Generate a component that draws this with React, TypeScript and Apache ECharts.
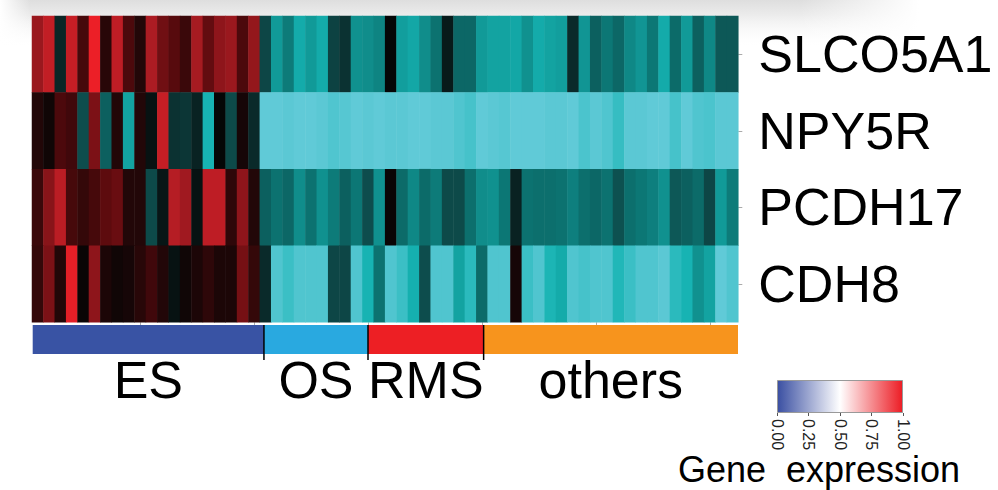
import React, { useEffect, useRef } from "react";
import * as echarts from "echarts";

// Genes, top to bottom
const genes = ["SLCO5A1", "NPY5R", "PCDH17", "CDH8"];

// Scaled expression per sample (62 samples, left to right)
const slco5a1 = [
  0.82, 0.9, 0.49, 0.91, 0.68, 1.0, 0.63, 0.89, 0.69, 0.62, 0.85, 0.75, 0.71, 0.66, 0.84, 0.73, 0.8, 0.82, 0.69, 0.81,
  0.41, 0.2, 0.27, 0.16, 0.2, 0.16, 0.42, 0.46, 0.22, 0.23, 0.25, 0.57, 0.19, 0.17, 0.23, 0.29, 0.52, 0.32, 0.32, 0.2,
  0.18, 0.18, 0.17, 0.22, 0.16, 0.18, 0.19, 0.48, 0.21, 0.34, 0.28, 0.32, 0.24, 0.21, 0.28, 0.16, 0.31, 0.2, 0.34, 0.24, 0.36, 0.36,
];
const npy5r = [
  0.62, 0.59, 0.69, 0.67, 0.39, 0.77, 0.34, 0.62, 0.18, 0.62, 0.54, 0.91, 0.46, 0.45, 0.5, 0.14, 0.57, 0.4, 0.6, 0.48,
  0.0, 0.0, 0.01, 0.0, 0.0, 0.01, 0.03, 0.02, 0.0, 0.01, 0.0, 0.01, 0.01, 0.0, 0.0, 0.01, 0.01, 0.03, 0.05, 0.0,
  0.01, 0.02, 0.0, 0.0, 0.0, 0.01, 0.01, 0.0, 0.04, 0.01, 0.03, 0.08, 0.01, 0.01, 0.0, 0.0, 0.05, 0.0, 0.03, 0.04, 0.01, 0.01,
];
const pcdh17 = [
  0.66, 0.79, 0.88, 0.68, 0.65, 0.68, 0.72, 0.74, 0.62, 0.62, 0.4, 0.53, 0.87, 0.83, 0.54, 0.89, 0.89, 0.64, 0.8, 0.62,
  0.34, 0.29, 0.32, 0.23, 0.29, 0.22, 0.27, 0.34, 0.28, 0.39, 0.22, 0.58, 0.31, 0.24, 0.31, 0.27, 0.4, 0.4, 0.3, 0.23,
  0.22, 0.28, 0.5, 0.29, 0.3, 0.3, 0.29, 0.26, 0.3, 0.32, 0.29, 0.38, 0.3, 0.28, 0.26, 0.22, 0.36, 0.34, 0.31, 0.41, 0.2, 0.27,
];
const cdh8 = [
  0.65, 0.77, 0.62, 0.98, 0.58, 0.8, 0.61, 0.59, 0.6, 0.63, 0.67, 0.62, 0.54, 0.59, 0.61, 0.64, 0.61, 0.61, 0.76, 0.65,
  0.48, 0.03, 0.07, 0.03, 0.03, 0.03, 0.41, 0.41, 0.03, 0.14, 0.29, 0.03, 0.07, 0.15, 0.39, 0.03, 0.03, 0.18, 0.1, 0.31,
  0.03, 0.03, 0.6, 0.07, 0.03, 0.13, 0.16, 0.03, 0.05, 0.03, 0.03, 0.12, 0.07, 0.03, 0.03, 0.01, 0.1, 0.14, 0.22, 0.18, 0.0, 0.03,
];
const expression = [slco5a1, npy5r, pcdh17, cdh8];

// Tumour type annotation
const groups = ["ES", "OS", "RMS", "others"];
const groupSizes = [20, 9, 10, 22];
const groupColors = ["#3953a4", "#29a9e0", "#ed1f24", "#f7941d"];

// Colour bar ticks
const legendTicks = [0, 0.25, 0.5, 0.75, 1];

const FONT = "'Liberation Sans', Arial, Helvetica, sans-serif";

export default function App() {
  const ref = useRef<HTMLDivElement>(null);

  useEffect(() => {
    document.body.style.margin = "0";
    if (!ref.current) return;
    const chart = echarts.init(ref.current, undefined, { renderer: "svg" });

    const nSamples = expression[0].length;
    const samples = Array.from({ length: nSamples }, (_, i) => `S${i + 1}`);
    const cells: number[][] = [];
    expression.forEach((row, r) => row.forEach((v, c) => cells.push([c, r, v])));

    const groupData: any[] = [];
    let acc = 0;
    groupSizes.forEach((n, i) => {
      groupData.push({ value: [acc, acc + n, i], name: groups[i] });
      acc += n;
    });
    const annotationTotal = acc;

    chart.setOption({
      animation: false,
      backgroundColor: "#ffffff",
      graphic: [
        {
          type: "rect",
          left: 0,
          top: 0,
          z: -10,
          silent: true,
          shape: { width: 998, height: 48 },
          style: {
            fill: {
              type: "linear", x: 0, y: 0, x2: 0, y2: 1,
              colorStops: [
                { offset: 0, color: "#dedede" },
                { offset: 0.3, color: "#ebebeb" },
                { offset: 1, color: "rgba(255,255,255,0)" },
              ],
            },
          },
        },
        {
          type: "rect",
          left: 800,
          top: 0,
          z: -9,
          silent: true,
          shape: { width: 198, height: 48 },
          style: {
            fill: {
              type: "linear", x: 0, y: 0, x2: 1, y2: 0,
              colorStops: [
                { offset: 0, color: "rgba(255,255,255,0)" },
                { offset: 0.6, color: "#ffffff" },
                { offset: 1, color: "#ffffff" },
              ],
            },
          },
        },
        {
          type: "rect",
          left: 0,
          top: 0,
          z: -9,
          silent: true,
          shape: { width: 30, height: 48 },
          style: {
            fill: {
              type: "linear", x: 0, y: 0, x2: 1, y2: 0,
              colorStops: [
                { offset: 0, color: "#ffffff" },
                { offset: 1, color: "rgba(255,255,255,0)" },
              ],
            },
          },
        },
        {
          type: "text",
          x: 819,
          y: 469,
          silent: true,
          style: {
            text: "Gene  expression",
            fontSize: 36,
            fontFamily: FONT,
            fill: "#000000",
            align: "center",
            verticalAlign: "middle",
          },
        },
      ],
      grid: [
        { left: 32, top: 16, width: 706.3, height: 306.3 },
        { left: 32.7, top: 325, width: 705.3, height: 35 },
        { left: 777, top: 380, width: 126, height: 33 },
      ],
      xAxis: [
        {
          type: "category",
          gridIndex: 0,
          data: samples,
          axisLine: { show: false },
          axisLabel: { show: false },
          splitLine: { show: false },
          axisTick: {
            show: true,
            alignWithLabel: true,
            interval: (i: number) => (i + 1) % 10 === 0,
            length: 4,
            lineStyle: { color: "#aaaaaa", width: 1 },
          },
        },
        {
          type: "value",
          gridIndex: 1,
          min: 0,
          max: annotationTotal,
          show: false,
        },
        {
          type: "value",
          gridIndex: 2,
          min: 0,
          max: 1,
          interval: 0.25,
          position: "bottom",
          axisLine: { show: false },
          splitLine: { show: false },
          axisTick: { show: true, length: 3, lineStyle: { color: "#555555" } },
          axisLabel: {
            rotate: -90,
            margin: 6,
            fontSize: 16,
            fontFamily: FONT,
            color: "#222222",
            customValues: legendTicks,
            formatter: (v: number) => v.toFixed(2),
          },
        },
      ],
      yAxis: [
        {
          type: "category",
          gridIndex: 0,
          data: genes,
          inverse: true,
          position: "right",
          axisLine: { show: false },
          splitLine: { show: false },
          axisTick: {
            show: true,
            alignWithLabel: true,
            length: 4,
            lineStyle: { color: "#aaaaaa", width: 1 },
          },
          axisLabel: {
            fontSize: 52,
            fontFamily: FONT,
            color: "#000000",
            margin: 20,
          },
        },
        { type: "value", gridIndex: 1, min: 0, max: 1, show: false },
        { type: "category", gridIndex: 2, data: ["expr"], show: false },
      ],
      visualMap: [
        {
          type: "continuous",
          show: false,
          seriesIndex: 0,
          dimension: 2,
          min: 0,
          max: 1,
          inRange: {
            color: [
              "#60cad7",
              "#15b3b2",
              "#0c7472",
              "#0d3f3f",
              "#050505",
              "#5a0a0d",
              "#b01d24",
              "#ec1f27",
            ],
          },
        },
      ],
      series: [
        {
          type: "heatmap",
          xAxisIndex: 0,
          yAxisIndex: 0,
          data: cells,
          progressive: 0,
          itemStyle: { borderWidth: 0 },
          emphasis: { disabled: true },
        },
        {
          type: "custom",
          xAxisIndex: 1,
          yAxisIndex: 1,
          data: groupData,
          renderItem: (params: any, api: any) => {
            const s = api.value(0);
            const e = api.value(1);
            const idx = api.value(2);
            const p0 = api.coord([s, 1]);
            const p1 = api.coord([e, 0]);
            const top = p0[1];
            const bottom = p1[1];
            const children: any[] = [
              {
                type: "rect",
                shape: { x: p0[0], y: top, width: p1[0] - p0[0], height: 29 },
                style: { fill: groupColors[idx] },
              },
              {
                type: "text",
                x: (p0[0] + p1[0]) / 2,
                y: top + 55,
                style: {
                  text: groups[idx],
                  fontSize: 52,
                  fontFamily: FONT,
                  fill: "#000000",
                  align: "center",
                  verticalAlign: "middle",
                },
              },
            ];
            if (idx > 0) {
              children.push({
                type: "line",
                shape: { x1: p0[0], y1: top, x2: p0[0], y2: bottom },
                style: { stroke: "#000000", lineWidth: 1.5 },
              });
            }
            return { type: "group", children };
          },
        },
        {
          type: "bar",
          xAxisIndex: 2,
          yAxisIndex: 2,
          data: [1],
          barWidth: "100%",
          silent: true,
          itemStyle: {
            borderColor: "#999999",
            borderWidth: 1,
            color: {
              type: "linear", x: 0, y: 0, x2: 1, y2: 0,
              colorStops: [
                { offset: 0, color: "#3a4fa2" },
                { offset: 0.5, color: "#ffffff" },
                { offset: 1, color: "#ec1c24" },
              ],
            },
          },
        },
      ],
    });

    return () => chart.dispose();
  }, []);

  return <div ref={ref} style={{ width: 998, height: 490 }} />;
}
